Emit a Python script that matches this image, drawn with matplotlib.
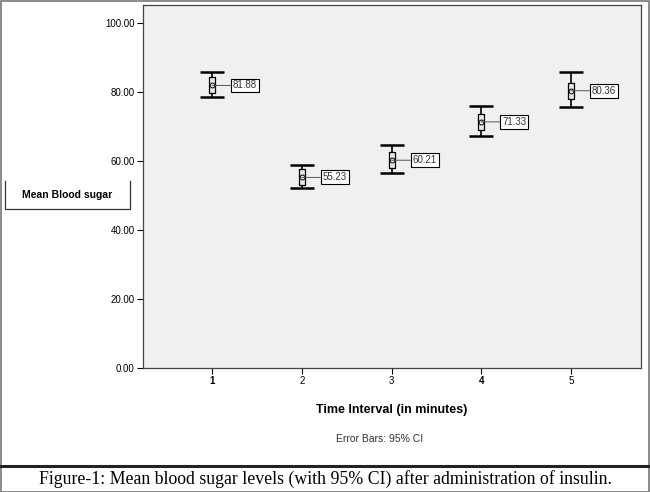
import matplotlib
matplotlib.use("Agg")
import matplotlib.pyplot as plt
from matplotlib.lines import Line2D
from matplotlib.patches import Rectangle

# values
time_points = [1, 2, 3, 4, 5]
means = [81.88, 55.23, 60.21, 71.33, 80.36]
ci_low = [78.6, 52.2, 56.5, 67.2, 75.6]
ci_high = [85.8, 58.8, 64.6, 75.9, 85.8]
y_ticks = [0, 20, 40, 60, 80, 100]
x_tick_weights = ["bold", "normal", "normal", "bold", "normal"]

plt.rcParams["font.family"] = ["Liberation Sans", "DejaVu Sans"]

fig = plt.figure(figsize=(6.5, 4.92), dpi=100)
ax = fig.add_axes([143 / 650, 1 - 368 / 492, 498 / 650, 363 / 492])
ax.set_facecolor("#f0f0f0")

err = [[m - lo for m, lo in zip(means, ci_low)],
       [hi - m for m, hi in zip(means, ci_high)]]
ax.errorbar(time_points, means, yerr=err, fmt="none", ecolor="black",
            elinewidth=1.2, capsize=8.3, capthick=1.8)

# SPSS style marker: small tall box with a circle inside
box_marker = [(-0.4, -1), (0.4, -1), (0.4, 1), (-0.4, 1), (-0.4, -1)]
ax.plot(time_points, means, linestyle="none", marker=box_marker,
        markersize=12, markerfacecolor="#e8e8e8", markeredgecolor="black",
        markeredgewidth=0.9)
ax.plot(time_points, means, linestyle="none", marker="o", markersize=3.5,
        markerfacecolor="none", markeredgecolor="black", markeredgewidth=0.7)

for x, m in zip(time_points, means):
    ax.annotate(f"{m:.2f}", xy=(x, m), xytext=(21, 0), textcoords="offset pixels",
                ha="left", va="center", fontsize=7, color="#333333",
                bbox=dict(boxstyle="square,pad=0.2", fc="white", ec="black", lw=0.8),
                arrowprops=dict(arrowstyle="-", color="#555555", lw=0.7,
                                shrinkA=0, shrinkB=0))

ax.set_xlim(0.231, 5.78)
ax.set_ylim(0, 105.2)
ax.set_yticks(y_ticks)
ax.set_yticklabels([f"{v:.2f}" for v in y_ticks], fontsize=7)
ax.set_xticks(time_points)
ax.set_xticklabels([str(t) for t in time_points], fontsize=7)
for lab, w in zip(ax.get_xticklabels(), x_tick_weights):
    lab.set_fontweight(w)
ax.tick_params(direction="out", length=4, width=0.8, pad=2)
for s in ax.spines.values():
    s.set_color("#444444")
    s.set_linewidth(0.9)

ax.set_xlabel("Time Interval (in minutes)", fontsize=9, fontweight="bold", labelpad=13)

fig.text(380 / 650, 1 - 439 / 492, "Error Bars: 95% CI", fontsize=7.5,
         color="#333333", ha="center", va="center")

# y label in an open box
fig.text(67 / 650, 1 - 195 / 492, "Mean Blood sugar", fontsize=7.5,
         fontweight="bold", ha="center", va="center")
bx = [5 / 650, 5 / 650, 130 / 650, 130 / 650]
by = [1 - 181 / 492, 1 - 209 / 492, 1 - 209 / 492, 1 - 181 / 492]
fig.add_artist(Line2D(bx, by, color="#333333", lw=0.9, transform=fig.transFigure))

# outer frame and caption separator
fig.add_artist(Rectangle((0.001, 0.001), 0.997, 0.997, fill=False,
                         ec="#777777", lw=1.2, transform=fig.transFigure))
fig.add_artist(Line2D([0, 1], [1 - 466 / 492] * 2, color="#222222", lw=2.2,
                      transform=fig.transFigure))
fig.text(0.5, 1 - 479 / 492,
         "Figure-1: Mean blood sugar levels (with 95% CI) after administration of insulin.",
         fontsize=12.8, family=["Liberation Serif", "DejaVu Serif"],
         ha="center", va="center")

fig.savefig("out.png", dpi=100)
